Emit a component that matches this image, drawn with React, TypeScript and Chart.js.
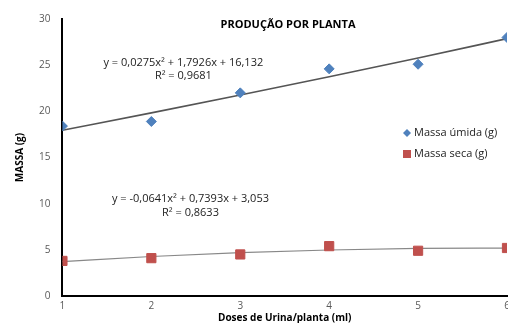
import React, { useEffect, useRef } from "react";
import { Chart, registerables } from "chart.js";
Chart.register(...registerables);

const doses = [1, 2, 3, 4, 5, 6];
const massaUmida = [18.4, 18.9, 22.0, 24.6, 25.1, 28.0];
const massaSeca = [3.8, 4.1, 4.5, 5.4, 4.9, 5.2];
const trendUmida = [17.95, 19.83, 21.76, 23.74, 25.77, 27.88];
const trendSeca = [3.73, 4.28, 4.69, 4.98, 5.15, 5.18];
const yTicks = [0, 5, 10, 15, 20, 25, 30];
const eqUmida = ["y = 0,0275x² + 1,7926x + 16,132", "R² = 0,9681"];
const eqSeca = ["y = -0,0641x² + 0,7393x + 3,053", "R² = 0,8633"];
const legendLabels = ["Massa úmida (g)", "Massa seca (g)"];
const title = "PRODUÇÃO POR PLANTA";

const FONT = "'Open Sans', 'Liberation Sans', sans-serif";
const BLUE = "#4F81BD";
const RED = "#C0504D";

const overlay = {
  id: "overlay",
  afterDraw(chart: any) {
    const ctx = chart.ctx;
    const xs = chart.scales.x;
    const ys = chart.scales.y;
    ctx.save();
    ctx.fillStyle = "#000";
    ctx.font = `bold 11px ${FONT}`;
    ctx.textAlign = "center";
    ctx.textBaseline = "middle";
    ctx.fillText(title, 288, 25);
    ctx.font = `11px ${FONT}`;
    ctx.fillStyle = "#222";
    const px1 = xs.getPixelForValue(2.36);
    ctx.fillText(eqUmida[0], px1, ys.getPixelForValue(25.2));
    ctx.fillText(eqUmida[1], px1, ys.getPixelForValue(23.8));
    const px2 = xs.getPixelForValue(2.44);
    ctx.fillText(eqSeca[0], px2, ys.getPixelForValue(10.5));
    ctx.fillText(eqSeca[1], px2, ys.getPixelForValue(9.0));
    // legend
    ctx.textAlign = "left";
    ctx.font = `11px ${FONT}`;
    const lx = 407;
    const ly1 = 133;
    const ly2 = 154;
    ctx.fillStyle = BLUE;
    ctx.beginPath();
    ctx.moveTo(lx, ly1 - 4);
    ctx.lineTo(lx + 4, ly1);
    ctx.lineTo(lx, ly1 + 4);
    ctx.lineTo(lx - 4, ly1);
    ctx.closePath();
    ctx.fill();
    ctx.fillStyle = RED;
    ctx.fillRect(lx - 4, ly2 - 4, 8, 8);
    ctx.fillStyle = "#222";
    ctx.fillText(legendLabels[0], lx + 7, ly1);
    ctx.fillText(legendLabels[1], lx + 7, ly2);
    ctx.restore();
  },
};

export default function App() {
  const ref = useRef<HTMLCanvasElement>(null);
  useEffect(() => {
    document.body.style.margin = "0";
    document.body.style.overflow = "hidden";
    const chart = new Chart(ref.current!, {
      type: "scatter",
      data: {
        datasets: [
          {
            label: "Tendência úmida",
            type: "line",
            data: doses.map((d, i) => ({ x: d, y: trendUmida[i] })),
            borderColor: "#555",
            borderWidth: 1.6,
            pointRadius: 0,
            tension: 0.4,
            cubicInterpolationMode: "monotone",
            order: 3,
          },
          {
            label: "Tendência seca",
            type: "line",
            data: doses.map((d, i) => ({ x: d, y: trendSeca[i] })),
            borderColor: "#888",
            borderWidth: 1.2,
            pointRadius: 0,
            tension: 0.4,
            cubicInterpolationMode: "monotone",
            order: 3,
          },
          {
            label: legendLabels[0],
            data: doses.map((d, i) => ({ x: d, y: massaUmida[i] })),
            pointStyle: "rectRot",
            pointRadius: 5,
            backgroundColor: BLUE,
            borderColor: BLUE,
            order: 1,
          },
          {
            label: legendLabels[1],
            data: doses.map((d, i) => ({ x: d, y: massaSeca[i] })),
            pointStyle: "rect",
            pointRadius: 6.5,
            backgroundColor: RED,
            borderColor: RED,
            order: 1,
          },
        ],
      } as any,
      options: {
        responsive: false,
        animation: false,
        layout: { padding: { top: 19, left: 14, right: 33, bottom: 0 } },
        plugins: { legend: { display: false }, tooltip: { enabled: false } },
        scales: {
          x: {
            type: "linear",
            min: 1,
            max: 6,
            grid: { display: false, drawTicks: true, tickLength: 4, tickColor: "#000" },
            border: { color: "#000", width: 2 },
            ticks: {
              stepSize: 1,
              color: "#595959",
              font: { size: 10, family: FONT },
              padding: 0,
            },
            title: {
              display: true,
              text: "Doses de Urina/planta (ml)",
              color: "#000",
              font: { size: 10, weight: "bold", family: FONT },
              padding: { top: 0, bottom: 0 },
            },
          },
          y: {
            min: 0,
            max: 30,
            afterBuildTicks: (s: any) => {
              s.ticks = yTicks.map((v) => ({ value: v }));
            },
            grid: { display: false, drawTicks: true, tickLength: 4, tickColor: "#000" },
            border: { color: "#000", width: 2 },
            ticks: {
              color: "#595959",
              font: { size: 10, family: FONT },
              padding: 8,
            },
            title: {
              display: true,
              text: "MASSA (g)",
              color: "#000",
              font: { size: 10, weight: "bold", family: FONT },
              padding: { top: 0, bottom: 5 },
            },
          },
        },
      } as any,
      plugins: [overlay],
    });
    return () => chart.destroy();
  }, []);
  return (
    <div style={{ position: "absolute", left: 0, top: 0, width: 508, height: 323, overflow: "hidden" }}>
      <canvas ref={ref} width={540} height={324} style={{ width: 540, height: 324 }} />
    </div>
  );
}
